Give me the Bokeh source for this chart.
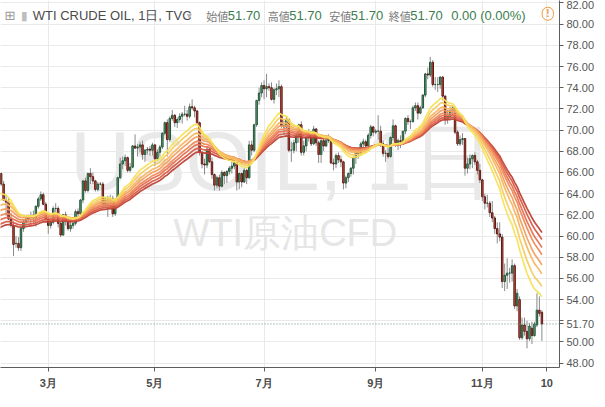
import pandas as pd
from bokeh.plotting import figure
from bokeh.models import ColumnDataSource, FixedTicker, Label, Span, NumeralTickFormatter, Range1d
from bokeh.embed import file_html
from bokeh.resources import INLINE

# ---------------- data ----------------
symbol_title = "WTI CRUDE OIL, 1日, TVC"
watermark_main = "USOIL, 1日"
watermark_sub = "WTI原油CFD"

first_day = "2018-02-01"
last_calendar_day = "2018-12-10"
market_closed = ["2018-11-22"]

open_ = [
    # Feb
    64.9, 65.9, 64.9, 63.4, 63.2, 61.6, 61.0, 59.3, 59.3, 58.9, 60.7, 61.3, 61.6, 61.8, 61.9, 61.7, 62.8, 63.5, 63.9, 63.0,
    # Mar
    61.6, 61.0, 61.3, 62.6, 62.6, 61.2, 60.1, 62.0, 61.4, 60.7, 61.0, 61.2, 62.3, 62.1, 63.4, 65.2, 64.3, 65.9, 65.6, 65.2, 64.4, 64.9,
    # Apr
    64.9, 63.0, 63.5, 63.4, 63.5, 62.1, 63.4, 65.5, 66.8, 67.1, 67.4, 66.2, 66.5, 68.5, 68.3, 68.4, 68.6, 67.7, 68.1, 68.2, 68.1,
    # May
    68.6, 67.3, 67.9, 68.4, 69.7, 70.7, 69.1, 71.1, 71.4, 70.7, 71.0, 71.3, 71.5, 71.5, 71.3, 72.2, 72.1, 71.8, 70.7, 67.9, 66.8, 66.7, 68.2,
    # Jun
    67.0, 65.8, 64.8, 65.5, 64.7, 66.0, 65.7, 66.1, 66.4, 66.6, 66.9, 65.1, 65.9, 65.1, 66.2, 65.5, 68.6, 68.1, 70.5, 72.8, 73.5,
    # Jul
    74.2, 73.9, 74.1, 74.0, 72.9, 73.8, 73.9, 74.1, 70.4, 70.3, 71.0, 68.1, 68.1, 68.8, 69.5, 70.5, 67.9, 68.5, 69.3, 69.6, 68.7, 70.1,
    # Aug
    68.8, 67.7, 69.0, 68.5, 69.0, 69.2, 66.9, 66.8, 67.6, 67.2, 67.0, 65.0, 65.5, 65.9, 66.4, 67.4, 67.9, 67.8, 68.7, 68.9, 68.5, 69.5, 70.3,
    # Sep
    69.8, 69.9, 69.9, 68.7, 67.8, 67.8, 67.5, 69.3, 70.4, 68.6, 69.0, 68.9, 69.9, 71.1, 70.8, 70.8, 72.1, 72.3, 71.6, 72.1,
    # Oct
    73.3, 75.3, 75.2, 76.4, 74.3, 74.3, 74.3, 75.0, 73.2, 71.0, 71.3, 71.8, 72.1, 69.8, 68.7, 69.1, 69.2, 66.4, 66.8, 67.3, 67.6, 67.0, 66.2,
    # Nov / Dec
    65.3, 63.7, 63.1, 63.1, 62.2, 61.7, 60.7, 60.2, 59.9, 55.7, 56.3, 56.5, 56.5, 57.2, 53.4, 54.0, 50.4, 51.6, 51.0, 50.3, 51.3,
    50.6, 51.6, 53.0, 52.8,
]
high = [
    66.1, 66.0, 65.2, 63.9, 63.6, 62.2, 61.4, 60.0, 59.9, 60.9, 61.6, 61.9, 62.0, 62.3, 62.4, 62.9, 63.7, 64.2, 64.1, 63.2,
    62.0, 61.7, 62.8, 63.1, 62.8, 61.3, 62.1, 62.3, 61.6, 61.5, 61.4, 62.5, 62.6, 63.5, 65.3, 65.5, 66.0, 66.4, 66.0, 65.3, 65.1, 65.1,
    65.1, 63.7, 63.8, 63.9, 63.8, 63.6, 65.6, 67.4, 67.5, 67.7, 67.5, 66.9, 68.6, 69.6, 68.7, 68.9, 69.0, 68.2, 68.4, 68.5, 68.8,
    68.7, 68.2, 68.6, 69.8, 70.8, 71.0, 71.3, 71.9, 71.5, 71.2, 71.6, 71.7, 72.3, 71.9, 72.5, 72.9, 72.3, 71.9, 70.8, 68.0, 67.3, 68.4, 68.3,
    67.4, 65.9, 65.7, 65.8, 66.2, 66.1, 66.2, 66.6, 67.0, 67.3, 67.0, 66.0, 66.0, 66.4, 66.3, 69.0, 69.0, 70.6, 72.8, 74.0, 74.5,
    74.7, 75.3, 74.4, 74.5, 74.0, 74.4, 74.7, 74.3, 70.9, 71.3, 71.1, 68.9, 69.1, 69.8, 70.6, 70.8, 69.0, 69.5, 70.1, 69.9, 70.4, 70.2,
    69.0, 69.1, 69.3, 69.5, 69.6, 69.2, 67.3, 67.8, 67.9, 67.6, 67.1, 65.7, 66.0, 66.5, 67.5, 68.0, 68.4, 68.9, 69.2, 69.1, 69.7, 70.5, 70.4,
    70.1, 71.4, 70.4, 69.0, 68.1, 68.3, 69.4, 71.0, 70.5, 69.2, 69.5, 69.9, 71.2, 71.4, 71.0, 72.3, 72.6, 72.6, 72.3, 73.4,
    75.4, 75.9, 76.9, 76.6, 75.0, 75.0, 75.1, 75.1, 73.3, 71.9, 72.2, 72.2, 72.2, 70.0, 69.5, 69.7, 69.2, 67.4, 67.7, 67.7, 67.9, 67.2, 66.8,
    65.4, 64.0, 63.9, 63.3, 63.3, 61.9, 61.3, 61.3, 60.2, 57.4, 57.9, 57.0, 57.8, 57.4, 55.0, 54.3, 52.3, 52.3, 52.0, 51.8, 51.9,
    51.9, 54.6, 54.3, 53.0,
]
low = [
    64.6, 64.7, 63.3, 61.9, 61.5, 60.8, 58.1, 58.9, 58.6, 58.6, 60.4, 60.9, 61.4, 61.1, 61.2, 60.9, 62.6, 63.3, 62.9, 61.5,
    60.2, 60.7, 61.1, 62.1, 60.8, 59.9, 60.0, 61.0, 60.5, 60.4, 60.7, 61.0, 61.6, 62.0, 63.1, 64.1, 64.1, 64.9, 64.9, 64.2, 64.2, 64.8,
    62.6, 62.7, 61.8, 63.0, 61.8, 61.9, 63.2, 65.4, 66.3, 66.6, 66.0, 66.0, 66.4, 68.2, 67.5, 67.9, 67.2, 67.0, 67.7, 67.6, 67.6,
    66.6, 67.1, 67.5, 68.2, 69.5, 67.5, 68.9, 70.9, 70.3, 70.2, 70.7, 70.6, 71.3, 70.9, 71.1, 71.9, 71.2, 70.5, 67.6, 66.4, 65.8, 66.4, 66.9,
    65.4, 64.3, 64.5, 64.3, 64.6, 64.9, 65.0, 65.8, 65.9, 66.3, 64.3, 64.4, 64.6, 65.0, 64.9, 65.4, 67.6, 67.9, 70.3, 72.4, 73.1,
    72.9, 73.1, 73.7, 72.8, 72.5, 73.3, 73.1, 70.2, 69.5, 70.0, 67.9, 67.0, 67.8, 68.0, 68.8, 67.6, 67.6, 68.0, 68.9, 68.5, 68.6, 68.5,
    66.9, 66.9, 68.0, 68.4, 68.8, 66.8, 66.2, 66.4, 66.9, 66.5, 64.4, 64.5, 65.1, 65.6, 65.8, 66.8, 67.3, 67.6, 68.4, 68.1, 68.3, 69.2, 69.4,
    69.6, 69.1, 68.4, 67.5, 67.0, 67.3, 67.4, 69.0, 68.4, 68.1, 68.3, 68.6, 69.6, 70.5, 70.1, 70.7, 71.8, 71.0, 71.5, 72.0,
    73.1, 74.8, 75.0, 74.1, 73.8, 73.6, 73.9, 72.8, 70.5, 70.6, 70.9, 71.3, 69.6, 68.5, 68.5, 68.6, 65.7, 65.9, 66.3, 66.4, 66.7, 65.8, 65.0,
    63.3, 62.5, 62.7, 61.8, 61.3, 60.2, 59.3, 59.5, 55.1, 54.8, 55.0, 55.6, 55.7, 53.1, 52.9, 50.2, 50.2, 50.6, 49.4, 50.1, 49.8,
    50.5, 51.4, 52.4, 50.1,
]
close = [
    65.9, 64.9, 63.4, 63.2, 61.6, 61.0, 59.2, 59.3, 58.9, 60.7, 61.3, 61.6, 61.8, 61.9, 61.7, 62.8, 63.5, 63.9, 63.0, 61.6,
    61.0, 61.3, 62.6, 62.6, 61.2, 60.1, 62.0, 61.4, 60.7, 61.0, 61.2, 62.3, 62.1, 63.4, 65.2, 64.3, 65.9, 65.6, 65.2, 64.4, 64.9, 64.9,
    63.0, 63.5, 63.4, 63.5, 62.1, 63.4, 65.5, 66.8, 67.1, 67.4, 66.2, 66.5, 68.5, 68.3, 68.4, 68.6, 67.7, 68.1, 68.2, 68.1, 68.6,
    67.3, 67.9, 68.4, 69.7, 70.7, 69.1, 71.1, 71.4, 70.7, 71.0, 71.3, 71.5, 71.5, 71.3, 72.2, 72.1, 71.8, 70.7, 67.9, 66.8, 66.7, 68.2, 67.0,
    65.8, 64.8, 65.5, 64.7, 66.0, 65.7, 66.1, 66.4, 66.6, 66.9, 65.1, 65.9, 65.1, 66.2, 65.5, 68.6, 68.1, 70.5, 72.8, 73.5, 74.2,
    73.9, 74.1, 74.0, 72.9, 73.8, 73.9, 74.1, 70.4, 70.3, 71.0, 68.1, 68.1, 68.8, 69.5, 70.5, 67.9, 68.5, 69.3, 69.6, 68.7, 70.1, 68.8,
    67.7, 69.0, 68.5, 69.0, 69.2, 66.9, 66.8, 67.6, 67.2, 67.0, 65.0, 65.5, 65.9, 66.4, 67.4, 67.9, 67.8, 68.7, 68.9, 68.5, 69.5, 70.3, 69.8,
    69.9, 69.9, 68.7, 67.8, 67.8, 67.5, 69.3, 70.4, 68.6, 69.0, 68.9, 69.9, 71.1, 70.8, 70.8, 72.1, 72.3, 71.6, 72.1, 73.3,
    75.3, 75.2, 76.4, 74.3, 74.3, 74.3, 75.0, 73.2, 71.0, 71.3, 71.8, 72.1, 69.8, 68.7, 69.1, 69.2, 66.4, 66.8, 67.3, 67.6, 67.0, 66.2, 65.3,
    63.7, 63.1, 63.1, 62.2, 61.7, 60.7, 60.2, 59.9, 55.7, 56.3, 56.5, 56.5, 57.2, 53.4, 54.6, 50.4, 51.6, 51.0, 50.3, 51.5, 50.6,
    51.7, 53.0, 52.7, 51.7,
]

# EMA ribbon (periods, and the level of each line at the left edge of the picture)
ema_spans = [18, 22, 27, 31, 36, 40, 45, 50]
ema_start = [63.9, 63.3, 62.8, 62.3, 61.8, 61.4, 61.0, 60.7]
ema_colors = ["#f7e15a", "#f8cb60", "#f7b562", "#f49f5f", "#ef895a", "#e77150", "#d95a45", "#bf4236"]

tick_dates = ["2018-03-01", "2018-05-01", "2018-07-02", "2018-09-03", "2018-11-01", "2018-12-10"]
tick_labels = ["3月", "5月", "7月", "9月", "11月", "10"]
price_ticks = list(range(48, 84, 2))

header_items = [
    ("始値", "51.70"), ("高値", "51.70"), ("安値", "51.70"), ("終値", "51.70"),
]
change_text = "0.00 (0.00%)"

# ---------------- layout helpers ----------------
calendar = [d.strftime("%Y-%m-%d") for d in pd.bdate_range(first_day, last_calendar_day)
            if d.strftime("%Y-%m-%d") not in market_closed]
n = len(close)
xs = list(range(n))
tick_pos = [calendar.index(d) for d in tick_dates]
last = close[-1]

X0, X1 = 0.75, 226.1
Y0, Y1 = 47.59, 82.23
REF_W, REF_H = 573.0, 388.0


def hx(px):
    return X0 + px / REF_W * (X1 - X0)


def hy(py):
    return Y1 - py / REF_H * (Y1 - Y0)


FONT = "Liberation Sans"

p = figure(width=597, height=391, output_backend="svg", toolbar_location=None,
           x_range=Range1d(X0, X1), y_range=Range1d(Y0, Y1), y_axis_location="right",
           min_border_left=0, min_border_top=0, min_border_right=0, min_border_bottom=0)
p.outline_line_color = None
p.background_fill_color = "white"
p.border_fill_color = "white"

# grid
p.xgrid.ticker = FixedTicker(ticks=tick_pos)
p.ygrid.ticker = FixedTicker(ticks=price_ticks)
for g in (p.xgrid, p.ygrid):
    g.grid_line_color = "#e9e9ea"
    g.grid_line_width = 1

# axes
ax = p.xaxis[0]
ax.ticker = FixedTicker(ticks=tick_pos)
ax.major_label_overrides = {t: lab for t, lab in zip(tick_pos, tick_labels)}
ax.major_label_text_font = FONT
ax.major_label_text_font_size = "11px"
ax.major_label_text_font_style = "bold"
ax.major_label_text_color = "#4a4a4a"
ax.major_label_standoff = 5

# price scale: the last price replaces the neighbouring 52.00 label, as on the reference
near_last = min(price_ticks, key=lambda t: abs(t - last))
ay = p.yaxis[0]
ay.ticker = FixedTicker(ticks=sorted(price_ticks + [last]))
ay.formatter = NumeralTickFormatter(format="0.00")
ay.major_label_overrides = {near_last: ""}
ay.major_label_text_font = FONT
ay.major_label_text_font_size = "11px"
ay.major_label_text_color = "#555555"
ay.major_label_standoff = 3

for a in (ax, ay):
    a.axis_line_color = "#5d5d5d"
    a.major_tick_line_color = "#5d5d5d"
    a.major_tick_out = 4
    a.major_tick_in = 0
    a.minor_tick_out = 0
    a.minor_tick_in = 0

# watermark (behind the candles)
p.add_layout(Label(x=hx(289), y=hy(170), text=watermark_main, text_align="center", text_baseline="middle",
                   text_font=FONT, text_font_size="83px", text_color="#e9e9e9", level="underlay"))
p.add_layout(Label(x=hx(292), y=hy(246), text=watermark_sub, text_align="center", text_baseline="middle",
                   text_font=FONT, text_font_size="38px", text_color="#e6e6e6", level="underlay"))

# candles
up = [c >= o for o, c in zip(open_, close)]
src = ColumnDataSource(dict(
    x=xs, o=open_, h=high, l=low, c=close,
    top=[max(o, c) for o, c in zip(open_, close)],
    bottom=[min(o, c) for o, c in zip(open_, close)],
    fill=["#6ba583" if u else "#d75442" for u in up],
    edge=["#225437" if u else "#5b1a13" for u in up],
))
p.segment(x0="x", y0="h", x1="x", y1="l", source=src, line_color="#8a8a8c", line_width=1)
p.vbar(x="x", width=0.6, top="top", bottom="bottom", fill_color="fill", line_color="edge",
       line_width=1, source=src)

# EMA ribbon
ribbon = []
for span, seed in zip(ema_spans, ema_start):
    a = 2.0 / (span + 1)
    e = [seed]
    for c in close[1:]:
        e.append(e[-1] + a * (c - e[-1]))
    ribbon.append(e)
for e, col in reversed(list(zip(ribbon, ema_colors))):
    p.line(xs, e, line_color=col, line_width=1.7, line_alpha=0.95)

# last price line
p.add_layout(Span(location=last, dimension="width", line_color="#5f9e76", line_dash="1 2", line_width=1))

# header
hy0 = hy(16)
p.add_layout(Label(x=hx(4), y=hy0, text="⊞", text_baseline="middle", text_font="DejaVu Sans",
                   text_font_size="13px", text_color="#9a9a9a"))
p.add_layout(Label(x=hx(21), y=hy0, text="▮", text_baseline="middle", text_font="DejaVu Sans",
                   text_font_size="12px", text_color="#bdbdbd"))
p.add_layout(Label(x=hx(33), y=hy0, text=symbol_title, text_baseline="middle", text_font=FONT,
                   text_font_size="13px", text_color="#4b4b4b"))
p.add_layout(Label(x=hx(191), y=hy0, text="▾", text_baseline="middle", text_font="DejaVu Sans",
                   text_font_size="10px", text_color="#b5b5b5"))
label_x = [211, 274, 337, 398]
green = "#3b7d4f"
for lx, (name, val) in zip(label_x, header_items):
    p.add_layout(Label(x=hx(lx), y=hy0, text=name, text_baseline="middle", text_font="Noto Sans CJK JP",
                       text_font_size="11px", text_color="#7b7b7b"))
    p.add_layout(Label(x=hx(lx + 22), y=hy0, text=val, text_baseline="middle", text_font=FONT,
                       text_font_size="13px", text_color=green))
p.add_layout(Label(x=hx(462), y=hy0, text=change_text, text_baseline="middle", text_font=FONT,
                   text_font_size="13px", text_color=green))
p.add_layout(Label(x=hx(561), y=hy(14), text="!", text_align="center", text_baseline="middle",
                   text_font=FONT, text_font_size="10px", text_font_style="bold", text_color="#f29a3a",
                   border_line_color="#f29a3a", border_line_width=1, border_radius=7, padding=(4, 1)))

open("out.html", "w").write(file_html(p, INLINE))
